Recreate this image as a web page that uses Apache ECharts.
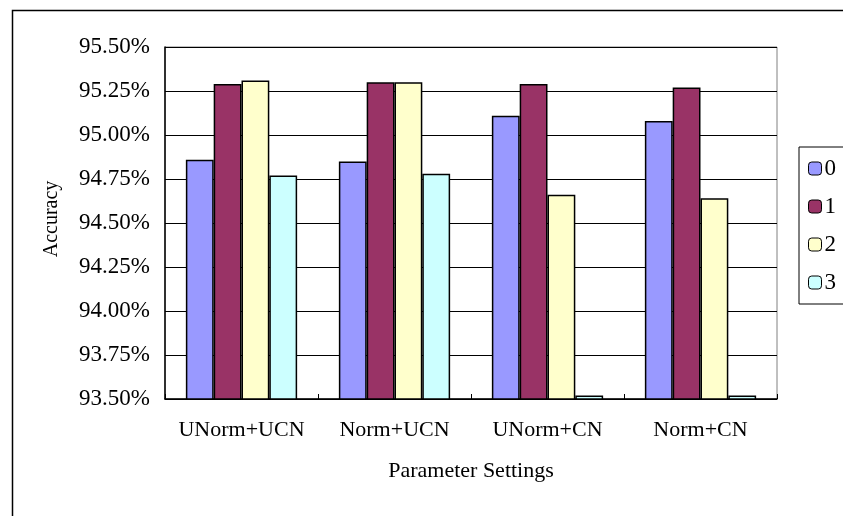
<!DOCTYPE html>
<html>
<head>
<meta charset="utf-8">
<script src="https://cdn.jsdelivr.net/npm/echarts@6/dist/echarts.min.js"></script>
<style>
  html, body { margin: 0; padding: 0; background: #fff; }
  #chart { width: 843px; height: 516px; }
</style>
</head>
<body>
<div id="chart"></div>
<script>
// Accuracy (%) per parameter setting, one series per configuration 0..3
const categories = ['UNorm+UCN', 'Norm+UCN', 'UNorm+CN', 'Norm+CN'];
const seriesNames = ['0', '1', '2', '3'];
const acc0 = [94.86, 94.85, 95.11, 95.08];
const acc1 = [95.29, 95.30, 95.29, 95.27];
const acc2 = [95.31, 95.30, 94.66, 94.64];
const acc3 = [94.77, 94.78, 93.52, 93.52];
const colors = ['#9999FF', '#993366', '#FFFFCC', '#CCFFFF'];

const FONT = '"Liberation Serif", "Times New Roman", serif';
const seriesData = [acc0, acc1, acc2, acc3];

const chart = echarts.init(document.getElementById('chart'), null, { renderer: 'canvas' });

chart.setOption({
  animation: false,
  backgroundColor: '#ffffff',
  textStyle: { fontFamily: FONT, color: '#000' },
  graphic: [{
    type: 'rect',
    left: 10, top: 8,
    shape: { width: 900, height: 600 },
    style: { fill: 'none', stroke: '#000', lineWidth: 1.5 },
    silent: true,
    z: -10
  }],
  grid: {
    left: 165, top: 47, right: 66, bottom: 117,
    show: true, borderColor: '#808080', borderWidth: 1,
    backgroundColor: 'transparent'
  },
  legend: {
    orient: 'vertical',
    left: 799, top: 147,
    padding: [10, 30, 10, 9],
    itemGap: 15,
    itemWidth: 13, itemHeight: 13,
    itemStyle: { borderColor: '#000', borderWidth: 1 },
    borderColor: '#000', borderWidth: 1,
    textStyle: { fontFamily: FONT, fontSize: 23, color: '#000', padding: [0, 0, 0, -2] },
    data: seriesNames
  },
  xAxis: {
    type: 'category',
    data: categories,
    name: 'Parameter Settings',
    nameLocation: 'middle',
    nameGap: 61,
    nameTextStyle: { fontFamily: FONT, fontSize: 22, color: '#000' },
    axisLine: { lineStyle: { color: '#000', width: 1.5 } },
    axisTick: { show: true, inside: true, length: 5, interval: 0, lineStyle: { color: '#000' } },
    axisLabel: { fontFamily: FONT, fontSize: 22, color: '#000', margin: 20, interval: 0 },
    splitLine: { show: false }
  },
  yAxis: {
    type: 'value',
    min: 93.5, max: 95.5, interval: 0.25,
    name: 'Accuracy',
    nameLocation: 'middle',
    nameGap: 103,
    nameRotate: 90,
    nameTextStyle: { fontFamily: FONT, fontSize: 20, color: '#000', padding: [0, 0, 0, 8] },
    axisLine: { show: true, lineStyle: { color: '#000', width: 1.5 } },
    axisTick: { show: false },
    axisLabel: {
      fontFamily: FONT, fontSize: 23, color: '#000', margin: 15,
      formatter: v => v.toFixed(2) + '%'
    },
    splitLine: { show: true, lineStyle: { color: '#000', width: 1 } }
  },
  series: seriesNames.map((name, i) => ({
    name: name,
    type: 'bar',
    data: seriesData[i],
    barGap: '0%',
    barCategoryGap: '27.27%',
    itemStyle: { color: colors[i], borderColor: '#000', borderWidth: 1.5 }
  }))
});
</script>
</body>
</html>
